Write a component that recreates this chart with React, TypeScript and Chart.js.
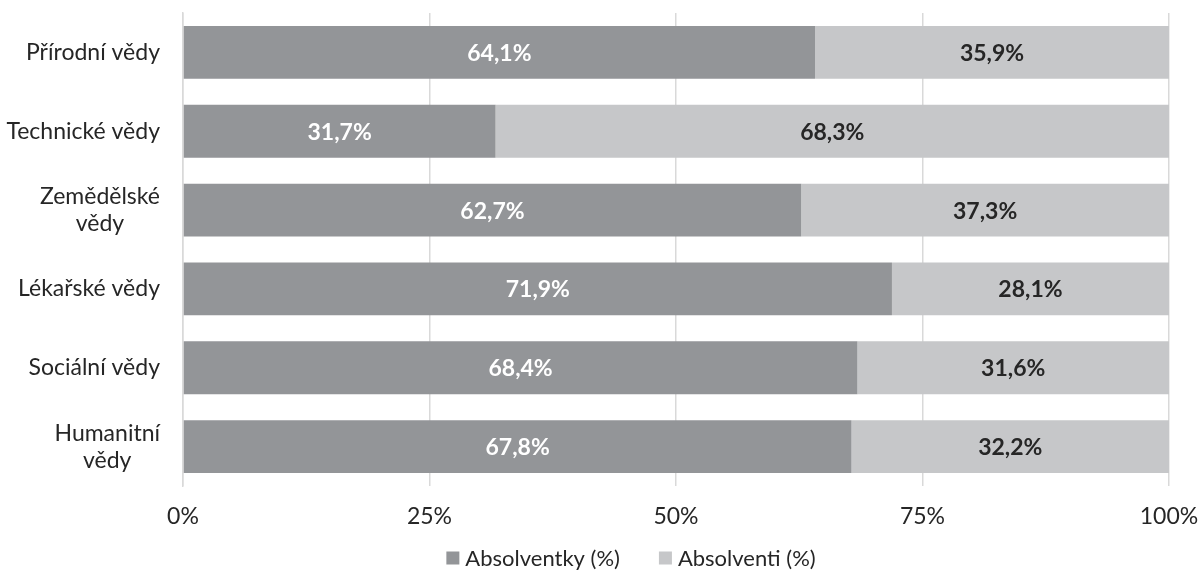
import React, { useEffect, useRef } from "react";
import { Chart, registerables } from "chart.js";

Chart.register(...registerables);

const categories: string[][] = [
  ["Přírodní vědy"],
  ["Technické vědy"],
  ["Zemědělské", "vědy"],
  ["Lékařské vědy"],
  ["Sociální vědy"],
  ["Humanitní", "vědy"],
];
const seriesNames = ["Absolventky (%)", "Absolventi (%)"];
const absolventky = [64.1, 31.7, 62.7, 71.9, 68.4, 67.8];
const absolventi = [35.9, 68.3, 37.3, 28.1, 31.6, 32.2];
const xTicks = [0, 25, 50, 75, 100];

const DARK = "#939598";
const LIGHT = "#c6c7c9";
const FONT = "Lato, 'Open Sans', sans-serif";
const FS = 23;

const fmt = (v: number) => v.toFixed(1).replace(".", ",") + "%";

export default function App() {
  const ref = useRef<HTMLCanvasElement | null>(null);

  useEffect(() => {
    document.body.style.margin = "0";
    const canvas = ref.current!;

    const labelsPlugin = {
      id: "customDraw",
      afterDatasetsDraw(chart: any) {
        const ctx = chart.ctx;
        ctx.save();
        // value labels
        ctx.font = `bold ${FS}px ${FONT}`;
        ctx.textAlign = "center";
        ctx.textBaseline = "middle";
        chart.data.datasets.forEach((ds: any, di: number) => {
          const meta = chart.getDatasetMeta(di);
          meta.data.forEach((bar: any, i: number) => {
            const x = (bar.x + bar.base) / 2;
            ctx.fillStyle = di === 0 ? "#ffffff" : "#262626";
            ctx.fillText(fmt(ds.data[i]), x, bar.y + 1);
          });
        });
        // category labels
        const y = chart.scales.y;
        ctx.font = `${FS}px ${FONT}`;
        ctx.fillStyle = "#262626";
        const right = 160;
        categories.forEach((lines, i) => {
          const cy = y.getPixelForValue(i);
          const w = Math.max(...lines.map((l) => ctx.measureText(l).width));
          const cx = right - w / 2;
          const lh = 27;
          const start = cy - ((lines.length - 1) * lh) / 2;
          lines.forEach((l, j) => ctx.fillText(l, cx, start + j * lh));
        });
        // legend
        ctx.font = `22px ${FONT}`;
        ctx.textAlign = "left";
        const box = 13;
        const gapBox = 6;
        const gapItem = 39;
        const widths = seriesNames.map((n) => ctx.measureText(n).width);
        const total = widths.reduce((a, b) => a + b, 0) + 2 * (box + gapBox) + gapItem;
        let lx = 631 - total / 2;
        const ly = 558;
        seriesNames.forEach((n, k) => {
          ctx.fillStyle = k === 0 ? DARK : LIGHT;
          ctx.fillRect(lx, ly - box / 2, box, box);
          lx += box + gapBox;
          ctx.fillStyle = "#262626";
          ctx.fillText(n, lx, ly + 1);
          lx += widths[k] + gapItem;
        });
        ctx.restore();
      },
    };

    const chart = new Chart(canvas, {
      type: "bar",
      data: {
        labels: categories.map((c) => c.join(" ")),
        datasets: [
          { label: seriesNames[0], data: absolventky, backgroundColor: DARK, barPercentage: 0.67, categoryPercentage: 1 },
          { label: seriesNames[1], data: absolventi, backgroundColor: LIGHT, barPercentage: 0.67, categoryPercentage: 1 },
        ],
      },
      options: {
        indexAxis: "y",
        animation: false,
        responsive: false,
        maintainAspectRatio: false,
        layout: { padding: { left: 183, right: 29, top: 13, bottom: 0 } },
        plugins: {
          legend: { display: false },
          tooltip: { enabled: false },
        },
        scales: {
          x: {
            stacked: true,
            min: 0,
            max: 100,
            afterBuildTicks(scale: any) {
              scale.ticks = xTicks.map((v) => ({ value: v }));
            },
            afterFit(scale: any) {
              scale.height = 84;
              scale.paddingLeft = 0;
              scale.paddingRight = 0;
            },
            ticks: {
              callback: (v: any) => v + "%",
              font: { family: FONT, size: FS },
              color: "#262626",
              padding: 17,
              maxRotation: 0,
            },
            grid: { color: "#d9d9d9", lineWidth: 1.5, drawTicks: false },
            border: { display: false },
          },
          y: {
            stacked: true,
            ticks: { display: false },
            grid: { display: false, drawTicks: false },
            border: { display: true, color: "#d9d9d9", width: 1.5 },
          },
        },
      },
      plugins: [labelsPlugin],
    } as any);

    return () => chart.destroy();
  }, []);

  return (
    <div style={{ position: "absolute", left: 0, top: 0, width: 1198, height: 570, background: "#fff" }}>
      <canvas ref={ref} width={1198} height={570} style={{ width: 1198, height: 570 }} />
    </div>
  );
}
